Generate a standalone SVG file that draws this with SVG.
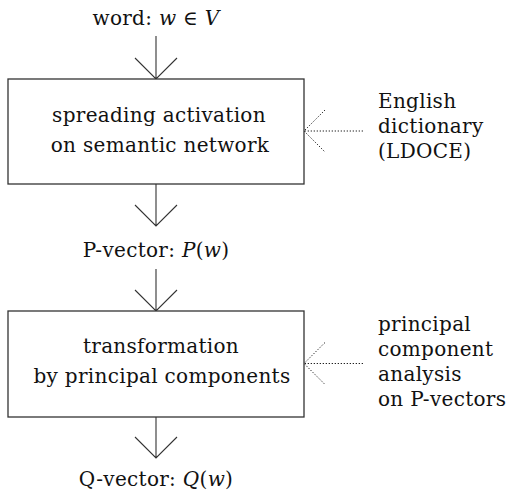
<svg xmlns="http://www.w3.org/2000/svg" width="514" height="492" viewBox="0 0 514 492">
  <style>
    text { font-family: "DejaVu Serif", "Liberation Serif", serif; font-size: 20px; fill: #111; letter-spacing: 0.3px; }
    .c { text-anchor: middle; }
    .i { font-style: italic; }
    .box { fill: #fff; stroke: #333; stroke-width: 1.3; }
    .arr { fill: none; stroke: #333; stroke-width: 1.1; }
    .dot { fill: none; stroke: #222; stroke-width: 1; stroke-dasharray: 1.3 1.7; }
  </style>
  <rect width="514" height="492" fill="#fff"/>

  <g id="connectors">
    <path class="arr" d="M156 36 V79 M135 58 L156 79 L177 58"/>
    <path class="arr" d="M156 184 V226 M135 205 L156 226 L177 205"/>
    <path class="arr" d="M156 269 V311 M135 290 L156 311 L177 290"/>
    <path class="arr" d="M156 417 V458 M135 437 L156 458 L177 437"/>
    <path class="dot" d="M363 131 H304 M325 110 L304 131 L325 152"/>
    <path class="dot" d="M363 363.5 H304 M325 342.5 L304 363.5 L325 384.5"/>
  </g>

  <g id="word">
    <text class="c" x="156" y="25">word: <tspan class="i">w</tspan> ∈ <tspan class="i">V</tspan></text>
  </g>

  <g id="spreading-activation">
    <rect class="box" x="8" y="79" width="296" height="105"/>
    <text class="c" x="159" y="122">spreading activation</text>
    <text class="c" x="160" y="152">on semantic network</text>
  </g>

  <g id="dictionary">
    <text x="378" y="108">English</text>
    <text x="378" y="133">dictionary</text>
    <text x="378" y="158">(LDOCE)</text>
  </g>

  <g id="p-vector">
    <text class="c" x="156" y="257">P-vector: <tspan class="i">P</tspan>(<tspan class="i">w</tspan>)</text>
  </g>

  <g id="transformation">
    <rect class="box" x="8" y="311" width="296" height="106"/>
    <text class="c" x="161" y="353">transformation</text>
    <text class="c" x="162" y="383">by principal components</text>
  </g>

  <g id="pca">
    <text x="378" y="331">principal</text>
    <text x="378" y="356">component</text>
    <text x="378" y="381">analysis</text>
    <text x="378" y="406">on P-vectors</text>
  </g>

  <g id="q-vector">
    <text class="c" x="156" y="486">Q-vector: <tspan class="i">Q</tspan>(<tspan class="i">w</tspan>)</text>
  </g>
</svg>
